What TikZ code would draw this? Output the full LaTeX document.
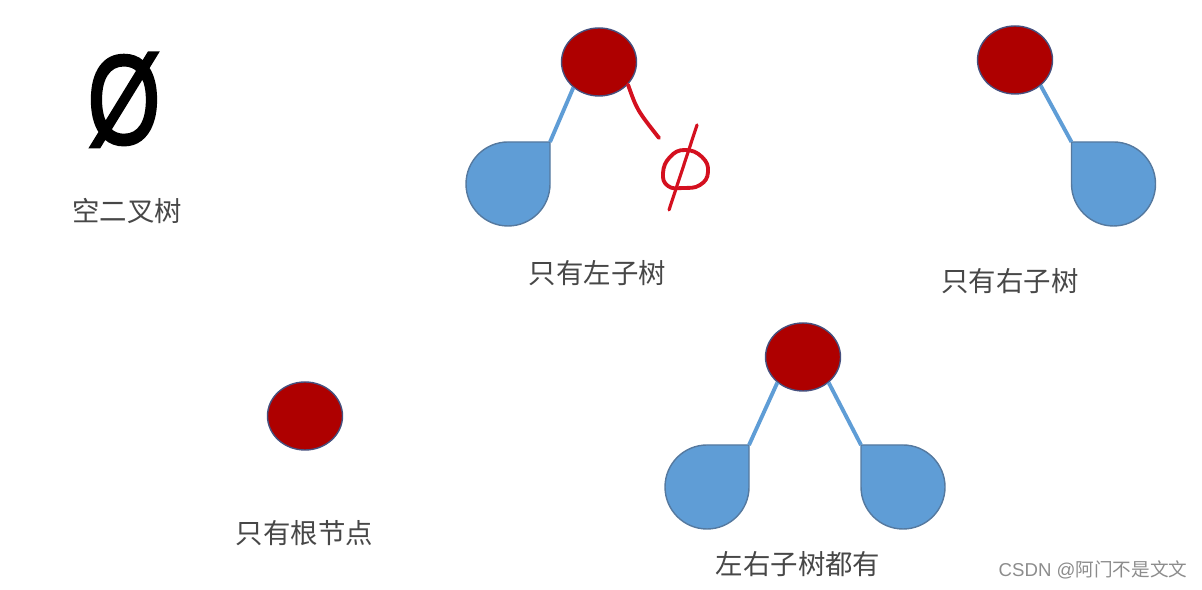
\documentclass[tikz,border=0pt]{standalone}
\usepackage{fontspec}
\setmainfont{Liberation Sans}
\newfontfamily\cjk{Noto Sans CJK SC}
\newfontfamily\emptyfont[FakeBold=2.5]{Liberation Sans}
\usetikzlibrary{shapes.geometric}
\definecolor{rootred}{HTML}{AE0000}
\definecolor{rootedge}{HTML}{46507E}
\definecolor{dropblue}{HTML}{5F9DD6}
\definecolor{dropedge}{HTML}{55799F}
\definecolor{penred}{HTML}{D4101F}
\tikzset{
    root/.style={ellipse,draw=rootedge,fill=rootred,line width=0.4pt,inner sep=0pt,minimum width=0.75cm,minimum height=0.68cm},
    drop/.style={draw=dropedge,fill=dropblue,line width=0.4pt},
    link/.style={draw=dropblue,line width=1.1pt},
    pen/.style={draw=penred,line width=1.1pt,line cap=round,line join=round},
    title/.style={inner sep=0pt,text=black!72,font=\cjk\fontsize{7.8}{9}\selectfont}
}
\begin{document}
\begin{tikzpicture}
            \useasboundingbox (0,0) rectangle (12.02,5.90);
            % empty tree
            \node[inner sep=0pt,xscale=0.74,font=\emptyfont\fontsize{36}{40}\selectfont] (empty) at (1.24,4.90) {Ø};
            \node[title] (emptytitle) at (1.27,3.79) {空二叉树};
            % left child only
            \node[root] (leftroot) at (5.99,5.28) {};
            \coordinate (lefttip) at (5.50,4.48);
            \draw[drop] (lefttip) -- ++(-0.42,0) arc (90:360:0.42) -- cycle;
            \draw[link] (leftroot.225) -- (lefttip);
            \coordinate (nilend) at (6.59,4.52);
            \draw[pen] (leftroot.-38) .. controls (6.37,4.80) .. (nilend);
            \coordinate (nilup) at (6.97,4.65);
            \coordinate (nildown) at (6.69,3.80);
            \draw[pen] plot[smooth cycle,tension=0.8] coordinates {(6.85,4.40) (7.02,4.33) (7.08,4.18) (7.00,4.05) (6.83,4.02) (6.68,4.04) (6.63,4.17) (6.70,4.33)};
            \draw[pen,line width=0.9pt] (nilup) -- (nildown);
            \node[title] (lefttitle) at (5.975,3.17) {只有左子树};
            % right child only
            \node[root] (rightroot) at (10.15,5.30) {};
            \coordinate (righttip) at (10.715,4.48);
            \draw[drop] (righttip) -- ++(0.42,0) arc (90:-180:0.42) -- cycle;
            \draw[link] (rightroot.-45) -- (righttip);
            \node[title] (righttitle) at (10.10,3.09) {只有右子树};
            % root only
            \node[root] (oneroot) at (3.05,1.74) {};
            \node[title] (onetitle) at (3.045,0.57) {只有根节点};
            % both children
            \node[root] (bothroot) at (8.03,2.33) {};
            \coordinate (bothl) at (7.49,1.45);
            \coordinate (bothr) at (8.61,1.45);
            \draw[drop] (bothl) -- ++(-0.42,0) arc (90:360:0.42) -- cycle;
            \draw[drop] (bothr) -- ++(0.42,0) arc (90:-180:0.42) -- cycle;
            \draw[link] (bothroot.225) -- (bothl);
            \draw[link] (bothroot.-45) -- (bothr);
            \node[title] (bothtitle) at (7.98,0.26) {左右子树都有};
            % watermark
            \node[inner sep=0pt,text=black!45,font=\fontsize{5.3}{7}\selectfont,anchor=east] (mark) at (11.88,0.20) {CSDN @{\cjk 阿门不是文文}};
        \end{tikzpicture}
\end{document}
